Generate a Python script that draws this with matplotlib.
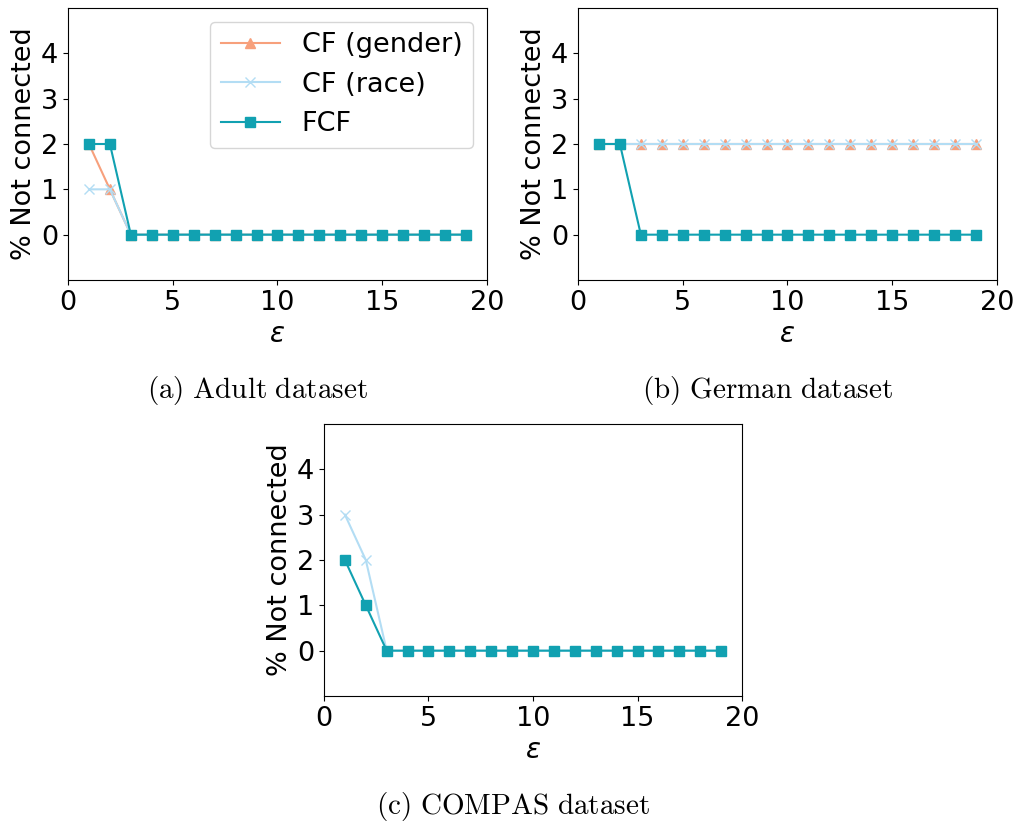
import matplotlib
matplotlib.use("Agg")
import matplotlib.pyplot as plt

eps = list(range(1, 20))

# Adult
adult_gender = [2, 1] + [0] * 17
adult_race = [1, 1] + [0] * 17
adult_fcf = [2, 2] + [0] * 17
# German
german_gender = [2] * 19
german_race = [2] * 19
german_fcf = [2, 2] + [0] * 17
# COMPAS
compas_race = [3, 2] + [0] * 17
compas_fcf = [2, 1] + [0] * 17

captions = ["(a) Adult dataset", "(b) German dataset", "(c) COMPAS dataset"]

c_gender = "#F7A07C"
c_race = "#B3DDF4"
c_fcf = "#11A1B1"

fig = plt.figure(figsize=(10.2, 8.21), dpi=100)
W, H = 1020, 821


def make_ax(left, top, right, bottom):
    return fig.add_axes([left / W, 1 - bottom / H, (right - left) / W, (bottom - top) / H])


ax_a = make_ax(68, 8, 487, 280)
ax_b = make_ax(578, 8, 997, 280)
ax_c = make_ax(324, 424, 742, 696)


def style(ax, caption):
    ax.set_xlim(0, 20)
    ax.set_ylim(-1, 5)
    ax.set_xticks([0, 5, 10, 15, 20])
    ax.set_yticks([0, 1, 2, 3, 4])
    ax.tick_params(labelsize=19.5)
    ax.set_ylabel("% Not connected", fontsize=19.5, labelpad=3)
    ax.set_xlabel(r"$\varepsilon$", fontsize=20, labelpad=3)
    # caption centred on the whole subfigure (incl. y label), so a bit left of the axes centre
    ax.text(0.452, -0.405, r"$\mathrm{" + caption.replace(" ", r"\ ") + "}$",
            transform=ax.transAxes, ha="center", va="center", fontsize=21,
            math_fontfamily="cm")


ms = 7
ax_a.plot(eps, adult_gender, color=c_gender, marker="^", ms=ms, label="CF (gender)")
ax_a.plot(eps, adult_race, color=c_race, marker="x", ms=ms, label="CF (race)")
ax_a.plot(eps, adult_fcf, color=c_fcf, marker="s", ms=ms, label="FCF")
ax_a.legend(loc="upper right", fontsize=19.5, handlelength=2.2)
style(ax_a, captions[0])

ax_b.plot(eps, german_gender, color=c_gender, marker="^", ms=ms)
ax_b.plot(eps, german_race, color=c_race, marker="x", ms=ms)
ax_b.plot(eps, german_fcf, color=c_fcf, marker="s", ms=ms)
style(ax_b, captions[1])

ax_c.plot(eps, compas_race, color=c_race, marker="x", ms=ms)
ax_c.plot(eps, compas_fcf, color=c_fcf, marker="s", ms=ms)
style(ax_c, captions[2])

fig.savefig("out.png", dpi=100)
